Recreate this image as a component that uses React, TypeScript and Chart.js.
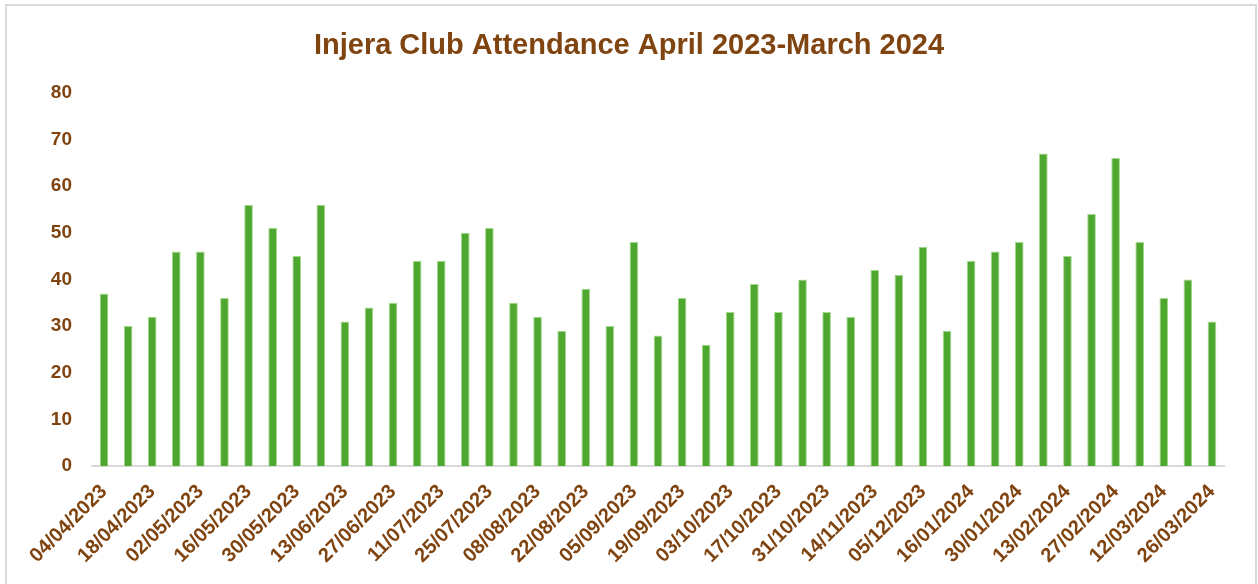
import React, { useEffect, useRef } from "react";
import { Chart, registerables } from "chart.js";

Chart.register(...registerables);

const dates: string[] = [
  "04/04/2023", "11/04/2023", "18/04/2023", "25/04/2023", "02/05/2023", "09/05/2023",
  "16/05/2023", "23/05/2023", "30/05/2023", "06/06/2023", "13/06/2023", "20/06/2023",
  "27/06/2023", "04/07/2023", "11/07/2023", "18/07/2023", "25/07/2023", "01/08/2023",
  "08/08/2023", "15/08/2023", "22/08/2023", "29/08/2023", "05/09/2023", "12/09/2023",
  "19/09/2023", "26/09/2023", "03/10/2023", "10/10/2023", "17/10/2023", "24/10/2023",
  "31/10/2023", "07/11/2023", "14/11/2023", "28/11/2023", "05/12/2023", "12/12/2023",
  "16/01/2024", "23/01/2024", "30/01/2024", "06/02/2024", "13/02/2024", "20/02/2024",
  "27/02/2024", "05/03/2024", "12/03/2024", "19/03/2024", "26/03/2024",
];

const attendance: number[] = [
  37, 30, 32, 46, 46, 36, 56, 51, 45, 56, 31, 34, 35, 44, 44, 50, 51, 35, 32, 29, 38, 30,
  48, 28, 36, 26, 33, 39, 33, 40, 33, 32, 42, 41, 47, 29, 44, 46, 48, 67, 45, 54, 66, 48,
  36, 40, 31,
];

const yTicks: number[] = [0, 10, 20, 30, 40, 50, 60, 70, 80];

const chartTitle = "Injera Club Attendance April 2023-March 2024";

const BROWN = "#7f4410";

export default function App() {
  const canvasRef = useRef<HTMLCanvasElement | null>(null);

  useEffect(() => {
    if (!canvasRef.current) return;
    const chart = new Chart(canvasRef.current, {
      type: "bar",
      data: {
        labels: dates,
        datasets: [
          {
            label: "Attendance",
            data: attendance,
            backgroundColor: "#4ea72e",
            borderColor: "#a3d98c",
            borderWidth: 1,
            barPercentage: 0.36,
            categoryPercentage: 1,
          },
        ],
      },
      options: {
        responsive: false,
        animation: false,
        layout: { padding: 0 },
        plugins: {
          legend: { display: false },
          tooltip: { enabled: false },
          title: {
            display: true,
            text: chartTitle,
            color: BROWN,
            font: { family: "'Liberation Sans', Arial, sans-serif", size: 29, weight: "bold", lineHeight: 1.2 },
            padding: { top: 29, bottom: 29 },
          },
        },
        scales: {
          x: {
            grid: { display: false, drawTicks: false },
            border: { display: true, color: "#d9d9d9", width: 2 },
            ticks: {
              autoSkip: false,
              minRotation: 45,
              maxRotation: 45,
              padding: 14,
              color: BROWN,
              font: { family: "'Liberation Sans', Arial, sans-serif", size: 20, weight: "bold" },
              callback: (_v: any, i: number) => (i % 2 === 0 ? dates[i] : ""),
            },
            afterFit: (s: any) => {
              s.height = 118;
            },
          },
          y: {
            min: 0,
            max: 80,
            afterBuildTicks: (s: any) => {
              s.ticks = yTicks.map((v) => ({ value: v }));
            },
            grid: { display: false, drawTicks: false },
            border: { display: false },
            ticks: {
              padding: 20,
              color: BROWN,
              font: { family: "'Liberation Sans', Arial, sans-serif", size: 19, weight: "bold" },
            },
            afterFit: (s: any) => {
              s.width = 92;
            },
          },
          spacer: {
            type: "linear",
            position: "right",
            display: true,
            grid: { display: false, drawTicks: false },
            border: { display: false },
            ticks: { display: false },
            afterFit: (s: any) => {
              s.width = 34;
            },
          },
        },
      },
    });
    return () => chart.destroy();
  }, []);

  return (
    <div style={{ position: "fixed", left: 0, top: 0, width: 1258, height: 584, overflow: "hidden", background: "#ffffff" }}>
      <div
        style={{
          position: "absolute",
          left: 5,
          top: 4,
          width: 1252,
          height: 640,
          border: "2px solid #d9d9d9",
          boxSizing: "border-box",
        }}
      />
      <canvas ref={canvasRef} width={1258} height={584} style={{ position: "absolute", left: 0, top: 0 }} />
    </div>
  );
}
